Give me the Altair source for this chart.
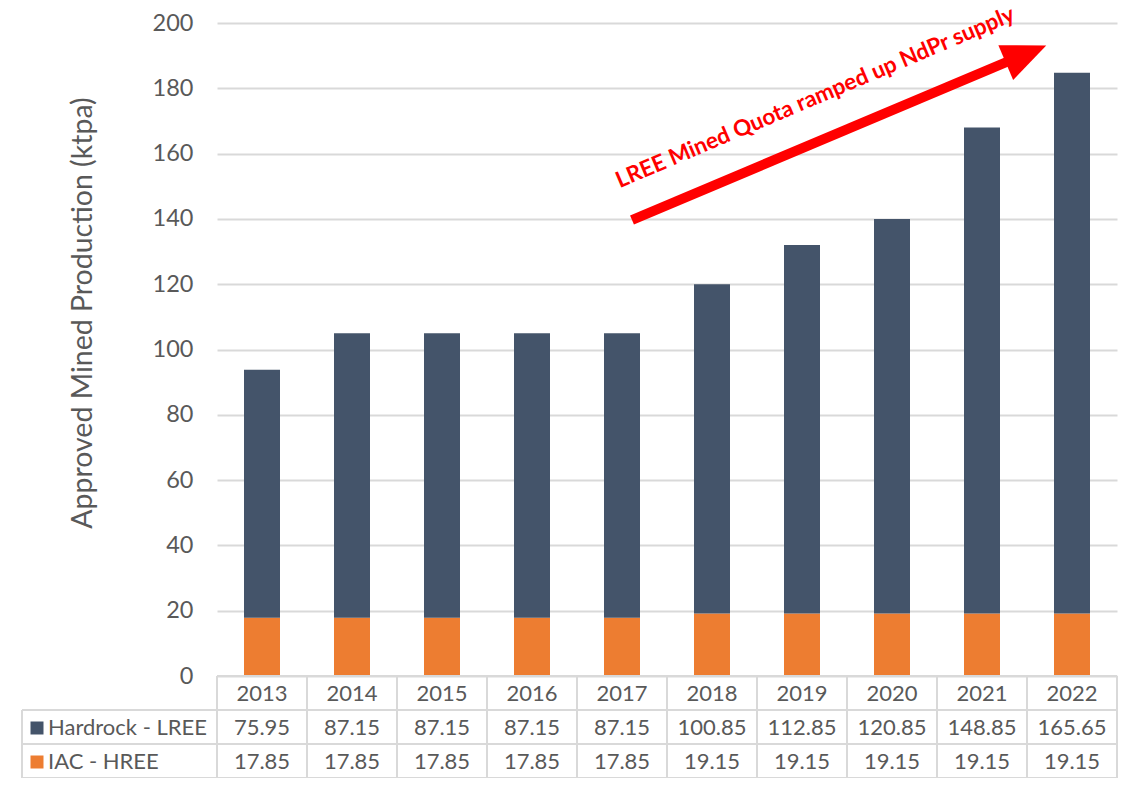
import altair as alt
import pandas as pd

years = ["2013", "2014", "2015", "2016", "2017", "2018", "2019", "2020", "2021", "2022"]
hardrock_lree = [75.95, 87.15, 87.15, 87.15, 87.15, 100.85, 112.85, 120.85, 148.85, 165.65]
iac_hree = [17.85, 17.85, 17.85, 17.85, 17.85, 19.15, 19.15, 19.15, 19.15, 19.15]
series_names = ["Hardrock - LREE", "IAC - HREE"]
series_colors = ["#44546A", "#ED7D31"]
annotation = "LREE Mined Quota ramped up NdPr supply"
y_title = "Approved Mined Production (ktpa)"

FONT = "Lato"
GREY = "#595959"
LINE = "#D9D9D9"
W, H = 900, 653

rows = []
for i, y in enumerate(years):
    rows.append({"year": y, "series": series_names[1], "value": iac_hree[i], "order": 0,
                 "label": f"{iac_hree[i]:.2f}"})
    rows.append({"year": y, "series": series_names[0], "value": hardrock_lree[i], "order": 1,
                 "label": f"{hardrock_lree[i]:.2f}"})
df = pd.DataFrame(rows)
ydf = pd.DataFrame({"year": years})

xenc = alt.X("year:N", sort=years, axis=None,
             scale=alt.Scale(paddingInner=0.6, paddingOuter=0.3))

bars = alt.Chart(df).mark_bar().encode(
    x=xenc,
    y=alt.Y("value:Q", stack="zero",
            scale=alt.Scale(domain=[0, 200]),
            axis=alt.Axis(values=list(range(0, 201, 20)), title=None, domain=False,
                          ticks=False, labelPadding=24, labelFontSize=23.5, labelColor=GREY,
                          labelFont=FONT, gridColor=LINE, gridWidth=2)),
    color=alt.Color("series:N", scale=alt.Scale(domain=series_names, range=series_colors),
                    legend=None),
    order=alt.Order("order:Q"),
)

# Table: year row
year_text = alt.Chart(ydf).mark_text(fontSize=22, font=FONT, color=GREY).encode(
    x=xenc, y=alt.value(671), text="year:N")

hard_text = alt.Chart(df[df.series == series_names[0]]).mark_text(
    fontSize=22, font=FONT, color=GREY).encode(x=xenc, y=alt.value(705), text="label:N")
iac_text = alt.Chart(df[df.series == series_names[1]]).mark_text(
    fontSize=22, font=FONT, color=GREY).encode(x=xenc, y=alt.value(739), text="label:N")

vrules = alt.Chart(ydf).mark_rule(color=LINE, strokeWidth=2, xOffset=-45).encode(
    x=xenc, y=alt.value(H), y2=alt.value(H + 102))

one = pd.DataFrame({"k": [0]})
table_lines = alt.layer(
    alt.Chart(one).mark_rule(color=LINE, strokeWidth=2).encode(
        x=alt.value(W), y=alt.value(H), y2=alt.value(H + 102)),
    alt.Chart(one).mark_rule(color=LINE, strokeWidth=2).encode(
        x=alt.value(-195), y=alt.value(H + 34), y2=alt.value(H + 102)),
    alt.Chart(one).mark_rule(color=LINE, strokeWidth=2).encode(
        x=alt.value(0), x2=alt.value(W), y=alt.value(H)),
    alt.Chart(one).mark_rule(color=LINE, strokeWidth=2).encode(
        x=alt.value(-195), x2=alt.value(W), y=alt.value(H + 34)),
    alt.Chart(one).mark_rule(color=LINE, strokeWidth=2).encode(
        x=alt.value(-195), x2=alt.value(W), y=alt.value(H + 68)),
    alt.Chart(one).mark_rule(color=LINE, strokeWidth=2).encode(
        x=alt.value(-195), x2=alt.value(W), y=alt.value(H + 102)),
)

leg_df = pd.DataFrame({"series": series_names, "ypos": [705, 739]})
leg_sq = alt.Chart(leg_df).mark_square(size=169, opacity=1, filled=True).encode(
    x=alt.value(-180), y=alt.Y("ypos:Q", scale=None),
    color=alt.Color("series:N", scale=alt.Scale(domain=series_names, range=series_colors),
                    legend=None))
leg_txt = alt.Chart(leg_df).mark_text(fontSize=22, font=FONT, color=GREY, align="left").encode(
    x=alt.value(-169), y=alt.Y("ypos:Q", scale=None), text="series:N")

ytitle = alt.Chart(pd.DataFrame({"t": [y_title]})).mark_text(
    fontSize=28.5, font=FONT, color=GREY, angle=270, align="center", baseline="middle").encode(
    x=alt.value(-134), y=alt.value(290), text="t:N")

arrow_line = alt.Chart(one).mark_rule(color="#FF0000", strokeWidth=10).encode(
    x=alt.value(415), y=alt.value(197), x2=alt.value(792), y2=alt.value(38))
arrow_head = alt.Chart(one).mark_point(
    shape="M-0.86,1L0,-1L0.86,1Z", filled=True, opacity=1, color="#FF0000",
    size=1936, angle=67).encode(x=alt.value(809), y=alt.value(31))
ann = alt.Chart(pd.DataFrame({"t": [annotation]})).mark_text(
    fontSize=22.5, font=FONT, fontWeight="bold", color="#FF0000", angle=337,
    align="center", baseline="alphabetic").encode(
    x=alt.value(601), y=alt.value(81), text="t:N")

chart = alt.layer(
    bars, table_lines, vrules, year_text, hard_text, iac_text, leg_sq, leg_txt,
    ytitle, arrow_line, arrow_head, ann
).resolve_scale(y="independent").properties(
    width=W, height=H,
    autosize=alt.AutoSizeParams(type="none"),
    padding={"left": 209, "top": 15, "right": 15, "bottom": 102},
).configure_view(stroke=None)

chart.save("out.html", embed_options={"renderer": "svg", "actions": False})
